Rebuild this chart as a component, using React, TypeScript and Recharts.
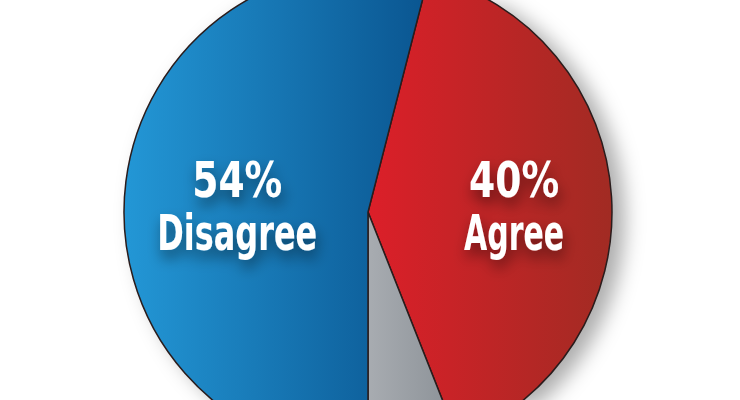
import { PieChart, Pie, Cell } from 'recharts'

// ── Data ──────────────────────────────────────────────────────────────────────
const names = ['Agree', 'Neutral', 'Disagree']
const values = [40, 6, 54]
const labels = ['Agree', '', 'Disagree']
const gradients = ['gRed', 'gGray', 'gBlue']

const data = names.map((n, i) => ({ name: n, value: values[i], label: labels[i] }))

// first slice starts 14.4° clockwise from 12 o'clock
const START = 90 - 14.4

const FONT = '"DejaVu Sans", "Liberation Sans", Arial, sans-serif'

// condensed look: squeeze glyphs to fixed widths
const squeeze = (s: string) => Math.round(s.length * 47 * (s.includes('%') ? 0.64 : 0.425))

function SliceLabel(props: any) {
  const { cx, cy, midAngle, outerRadius, percent, payload } = props
  if (!payload?.label) return null
  const rad = Math.PI / 180
  const k = payload.name === 'Agree' ? 0.6 : 0.54
  const x = cx + outerRadius * k * Math.cos(-midAngle * rad)
  const pct = `${Math.round(percent * 100)}%`
  const txt = { fontFamily: FONT, fontWeight: 700, fontSize: 50, fontStretch: 'condensed' as const }
  return (
    <g filter="url(#txtShadow)">
      <text x={x} y={cy - 15} textAnchor="middle" fill="#fff" style={txt}
        textLength={squeeze(pct)} lengthAdjust="spacingAndGlyphs">
        {pct}
      </text>
      <text x={x} y={cy + 38} textAnchor="middle" fill="#fff" style={txt}
        textLength={squeeze(payload.label)} lengthAdjust="spacingAndGlyphs">
        {payload.label}
      </text>
    </g>
  )
}

export default function App() {
  return (
    <div style={{
      position: 'fixed', left: 0, top: 0, width: 740, height: 400,
      background: '#fff', overflow: 'hidden',
    }}>
      <div style={{ filter: 'drop-shadow(12px 6px 10px rgba(0,0,0,0.32))' }}>
        <PieChart width={740} height={400} margin={{ top: 0, right: 0, bottom: 0, left: 0 }}>
          <defs>
            <linearGradient id="gBlue" x1="0" y1="0" x2="1" y2="0">
              <stop offset="0%" stopColor="#2397d6" />
              <stop offset="100%" stopColor="#0a5590" />
            </linearGradient>
            <linearGradient id="gRed" x1="0" y1="0" x2="1" y2="0">
              <stop offset="0%" stopColor="#dc1f29" />
              <stop offset="100%" stopColor="#a12b23" />
            </linearGradient>
            <linearGradient id="gGray" x1="0" y1="0" x2="1" y2="0">
              <stop offset="0%" stopColor="#a8acb1" />
              <stop offset="100%" stopColor="#8a9096" />
            </linearGradient>
            <filter id="txtShadow" x="-30%" y="-40%" width="160%" height="200%">
              <feDropShadow dx="2" dy="8" stdDeviation="7" floodColor="#000" floodOpacity="0.45" />
            </filter>
          </defs>
          <Pie
            data={data}
            dataKey="value"
            nameKey="name"
            cx={368}
            cy={212}
            outerRadius={244}
            startAngle={START}
            endAngle={START - 360}
            stroke="#2a1c1c"
            strokeWidth={1.5}
            label={SliceLabel}
            labelLine={false}
            isAnimationActive={false}
          >
            {data.map((d, i) => (
              <Cell key={d.name} fill={`url(#${gradients[i]})`} />
            ))}
          </Pie>
        </PieChart>
      </div>
    </div>
  )
}
